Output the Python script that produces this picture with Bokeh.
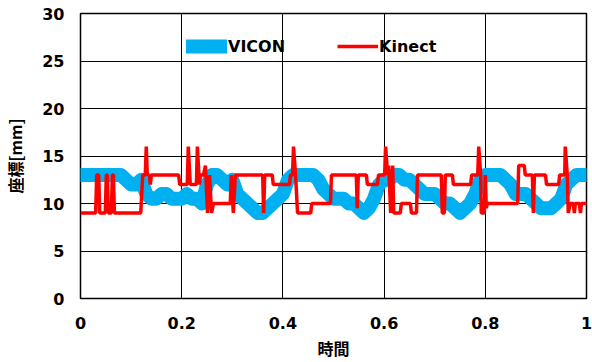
import numpy as np
from bokeh.plotting import figure
from bokeh.models import Legend, LegendItem, FixedTicker, Range1d
from bokeh.embed import file_html
from bokeh.resources import INLINE

# ---- data ----
vicon_t = np.round(np.arange(101) * 0.01, 2)
vicon_v = [13, 13, 13, 13, 13, 13, 13, 13, 13, 12.5,
           12, 12, 12.5, 11, 10.5, 10.5, 11, 11, 10.5, 10.5,
           10.5, 11, 10.5, 10.5, 10, 12, 13, 13, 12.5, 12,
           12.5, 11, 10.5, 10, 9.5, 9, 9, 9.5, 10, 10.5,
           11, 12.5, 13, 13, 13, 13, 13, 12.5, 11.5, 11,
           10.5, 10.5, 10.5, 10, 10, 9.5, 9, 9.5, 10.5, 12,
           12.5, 12.5, 13, 13, 12.5, 12.5, 12, 11.5, 11, 11,
           11, 10.5, 10, 10, 9.5, 9, 9.5, 10, 11, 12.5,
           13, 13, 13, 13, 12.5, 12, 11, 11, 11, 10.5,
           10, 9.5, 9.5, 9.5, 10, 10.5, 12, 12.5, 13, 13, 13]

kinect_t = [0.000, 0.030, 0.032, 0.036, 0.038, 0.049, 0.051, 0.053, 0.055, 0.061,
            0.063, 0.065, 0.067, 0.119, 0.123, 0.128, 0.130, 0.132, 0.136, 0.138,
            0.140, 0.194, 0.196, 0.211, 0.213, 0.217, 0.229, 0.231, 0.235, 0.237,
            0.243, 0.247, 0.251, 0.255, 0.259, 0.263, 0.296, 0.298, 0.302, 0.306,
            0.360, 0.362, 0.364, 0.379, 0.381, 0.413, 0.415, 0.419, 0.421, 0.425,
            0.429, 0.455, 0.457, 0.494, 0.496, 0.545, 0.547, 0.549, 0.565, 0.567,
            0.587, 0.589, 0.601, 0.603, 0.607, 0.609, 0.613, 0.617, 0.619, 0.632,
            0.634, 0.652, 0.654, 0.664, 0.666, 0.713, 0.715, 0.719, 0.721, 0.735,
            0.737, 0.771, 0.773, 0.785, 0.787, 0.791, 0.792, 0.798, 0.800, 0.802,
            0.804, 0.864, 0.866, 0.877, 0.879, 0.893, 0.895, 0.897, 0.919, 0.921,
            0.945, 0.947, 0.957, 0.958, 0.962, 0.964, 0.968, 0.974, 0.976, 0.978,
            0.986, 0.988, 0.990, 1.000]
kinect_v = [9, 9, 13, 13, 9, 9, 13, 13, 9, 9,
            13, 13, 9, 9, 13, 13, 16, 13, 13, 12,
            13, 13, 12, 12, 16, 12, 12, 16, 12, 13,
            13, 14, 9, 13, 9, 10, 10, 13, 9, 13,
            13, 9, 13, 13, 12, 12, 13, 13, 16, 13,
            9, 9, 10, 10, 13, 13, 9.5, 13, 13, 12,
            12, 13, 13, 16, 13, 14, 9, 14, 9, 9,
            10, 10, 9, 9, 13, 13, 9, 9, 13, 13,
            12, 12, 13, 13, 16, 13, 9, 9, 13, 9.5,
            10, 10, 14, 14, 13, 13, 9, 13, 13, 12,
            12, 13, 13, 16, 13, 9, 10, 10, 9, 10,
            10, 9, 10, 10]

x_ticks = [0, 0.2, 0.4, 0.6, 0.8, 1]
x_tick_labels = {0: "0", 0.2: "0.2", 0.4: "0.4", 0.6: "0.6", 0.8: "0.8", 1: "1"}
y_ticks = [0, 5, 10, 15, 20, 25, 30]

tick_font = "DejaVu Sans"
title_font = "Noto Sans CJK JP"

p = figure(width=592, height=362, output_backend="svg", toolbar_location=None,
           x_range=Range1d(0, 1), y_range=Range1d(0, 30),
           min_border_left=80, min_border_right=6, min_border_top=13, min_border_bottom=63)
p.background_fill_color = "white"
p.border_fill_color = "white"
p.outline_line_color = "black"
p.outline_line_width = 1.5

r_vicon = p.line(vicon_t, vicon_v, line_color="#00B0F0", line_width=14,
                 line_cap="round", line_join="round")
r_kinect = p.line(kinect_t, kinect_v, line_color="#FF0000", line_width=3.5)

for ax in (p.xaxis[0], p.yaxis[0]):
    ax.axis_line_color = None
    ax.major_tick_line_color = None
    ax.minor_tick_line_color = None
    ax.major_tick_out = 0
    ax.major_tick_in = 0
    ax.major_label_text_font = tick_font
    ax.major_label_text_font_style = "bold"
    ax.major_label_text_font_size = "16px"
    ax.major_label_text_color = "black"
    ax.axis_label_text_font = title_font
    ax.axis_label_text_font_style = "bold"
    ax.axis_label_text_font_size = "16px"
    ax.axis_label_text_color = "black"

p.xaxis[0].ticker = FixedTicker(ticks=x_ticks)
p.xaxis[0].major_label_overrides = x_tick_labels
p.yaxis[0].ticker = FixedTicker(ticks=y_ticks)
p.xaxis[0].major_label_standoff = 18
p.yaxis[0].major_label_standoff = 16
p.xaxis[0].axis_label = "時間"
p.yaxis[0].axis_label = "座標[mm]"
p.xaxis[0].axis_label_standoff = 4
p.yaxis[0].axis_label_standoff = 12

p.xgrid[0].ticker = FixedTicker(ticks=x_ticks)
p.ygrid[0].ticker = FixedTicker(ticks=y_ticks)
p.xgrid[0].grid_line_color = "black"
p.ygrid[0].grid_line_color = "black"
p.xgrid[0].grid_line_width = 1
p.ygrid[0].grid_line_width = 1

legend = Legend(items=[LegendItem(label="VICON", renderers=[r_vicon]),
                       LegendItem(label="Kinect", renderers=[r_kinect])],
                orientation="horizontal", location=(106, 242),
                background_fill_alpha=0, border_line_color=None,
                padding=0, margin=0, spacing=52, label_standoff=1,
                glyph_width=41, glyph_height=20,
                label_text_font=tick_font, label_text_font_size="16px",
                label_text_font_style="bold",
                label_text_color="black")
p.add_layout(legend, "center")

open("out.html", "w").write(file_html(p, INLINE))
